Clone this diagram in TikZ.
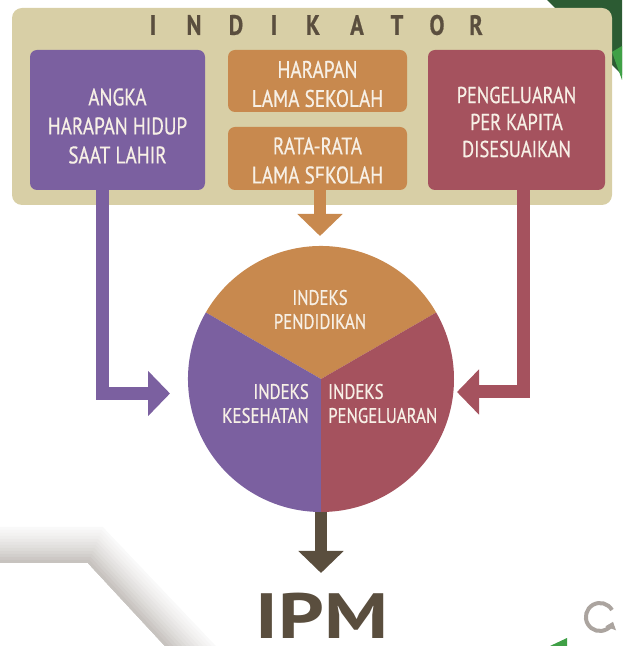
\documentclass[tikz,border=0pt]{standalone}
\usepackage{fontspec}
\setmainfont{PT Sans}
\newfontfamily\cond[FakeStretch=0.8,FakeBold=0.6]{PT Sans}
\newfontfamily\ipmfont[FakeStretch=1.25]{PT Sans}
\usetikzlibrary{arrows.meta,calc}
\definecolor{tanbg}{HTML}{D8CFA6}
\definecolor{purp}{HTML}{7B60A0}
\definecolor{orng}{HTML}{C8894E}
\definecolor{redd}{HTML}{A5525E}
\definecolor{brwn}{HTML}{5A4E3E}
\definecolor{txtc}{HTML}{F7F0E6}
\definecolor{dgreen}{HTML}{2C5B33}
\definecolor{lgreen}{HTML}{3FA046}
\definecolor{bandc}{HTML}{8F867F}
\definecolor{iconc}{HTML}{ABA49F}
\begin{document}
\begin{tikzpicture}[x=1pt,y=1pt,
  boxtxt/.style={text=txtc, font=\cond\fontsize{24}{29}\selectfont, align=center, inner sep=0pt},
  ibox/.style={fill=#1, rounded corners=7pt, inner sep=0pt},
  ctxt/.style={text=txtc, font=\cond\fontsize{21}{24}\selectfont, inner sep=0pt},
  ttl/.style={text=brwn, font=\cond\bfseries\fontsize{28}{28}\selectfont, inner sep=0pt},
  fat/.style={line width=13pt, draw=#1, -{Triangle[width=44pt,length=22pt]}}
]
\useasboundingbox (0,0) rectangle (622,646);
% decorations
\foreach \d/\c in {36/5,33/8,30/11,27/14,24/18,21/22,18/26,15/30,12/35,9/40,6/45,3/50}{
  \fill[bandc!\c] (0,83) -- (88,83) -- (165,0) -- ({165+1.414*\d},0) -- ({88+0.414*\d},{83+\d}) -- (0,{83+\d}) -- cycle;
}
\fill[dgreen] (547,646) -- (622,646) -- (622,571) -- cycle;
\fill[lgreen] (612,594) -- (622,600) -- (622,566) -- cycle;
\fill[lgreen] (550,0) -- (567,0) -- (567,8) -- cycle;
\draw[iconc, line width=4pt, -{Triangle[width=11pt,length=7pt]}] (612,36) arc[start angle=30, end angle=340, radius=14];

% named free ends
\coordinate (ptip) at (170,252.5);
\coordinate (rtip) at (457,254);
\coordinate (ostart) at (320,468);
\coordinate (otip) at (320,410);
\coordinate (btip) at (321,73);

% panel
\node[fill=tanbg, rounded corners=10pt, minimum width=600pt, minimum height=197pt, inner sep=0pt] (panel) at (312,539.5) {};
\foreach \ch/\x in {I/153,N/194,D/236,I/274,K/313,A/357,T/397,O/437,R/476}{
  \node[ttl] at (\x,621) {\ch};
}
\node[ibox=purp, minimum width=175pt, minimum height=140pt] (ahh) at (117.5,526) {};
\node[boxtxt] (ahht) at ([yshift=-6pt]ahh.center) {ANGKA\\HARAPAN HIDUP\\SAAT LAHIR};
\node[ibox=orng, minimum width=179pt, minimum height=62pt] (hls) at (317.5,565) {};
\node[boxtxt] (hlst) at ([yshift=-3pt]hls.center) {HARAPAN\\LAMA SEKOLAH};
\node[ibox=orng, minimum width=179pt, minimum height=63pt] (rls) at (317.5,487.5) {};
\node[boxtxt] (rlst) at ([yshift=-2pt]rls.center) {RATA-RATA\\LAMA SEKOLAH};
\node[ibox=redd, minimum width=177pt, minimum height=140pt] (ppk) at (516.5,526) {};
\node[boxtxt, font=\cond\fontsize{23}{27}\selectfont] (ppkt) at ([yshift=-2pt]ppk.center) {PENGELUARAN\\PER KAPITA\\DISESUAIKAN};

% circle
\node[circle, minimum size=266pt, inner sep=0pt] (ring) at (321,267) {};
\fill[orng] (ring.center) -- ++(30:133) arc[start angle=30, end angle=150, radius=133] -- cycle;
\fill[purp] (ring.center) -- ++(150:133) arc[start angle=150, end angle=270, radius=133] -- cycle;
\fill[redd] (ring.center) -- ++(270:133) arc[start angle=270, end angle=390, radius=133] -- cycle;
\node[ctxt, align=center] (ip) at (320,336.5) {INDEKS\\PENDIDIKAN};
\node[ctxt, align=right, anchor=east] (ik) at (309,242.5) {INDEKS\\KESEHATAN};
\node[ctxt, align=left, anchor=west] (ipg) at (328,242.5) {INDEKS\\PENGELUARAN};

% connectors
\draw[fat=purp] ([xshift=-15pt]ahh.south) -- ([xshift=-15pt]ahh.south |- panel.south) |- (ptip);
\draw[fat=redd] ([xshift=7pt]ppk.south) -- ([xshift=7pt]ppk.south |- panel.south) |- (rtip);
\draw[fat=orng, line width=12pt] (ostart) -- (otip);
\draw[fat=brwn, line width=12pt] (ring.south) -- (btip);

\node[text=brwn, font=\ipmfont\bfseries\fontsize{64}{64}\selectfont, inner sep=0pt, anchor=base] (ipm) at (322,8) {IPM};
\end{tikzpicture}
\end{document}
